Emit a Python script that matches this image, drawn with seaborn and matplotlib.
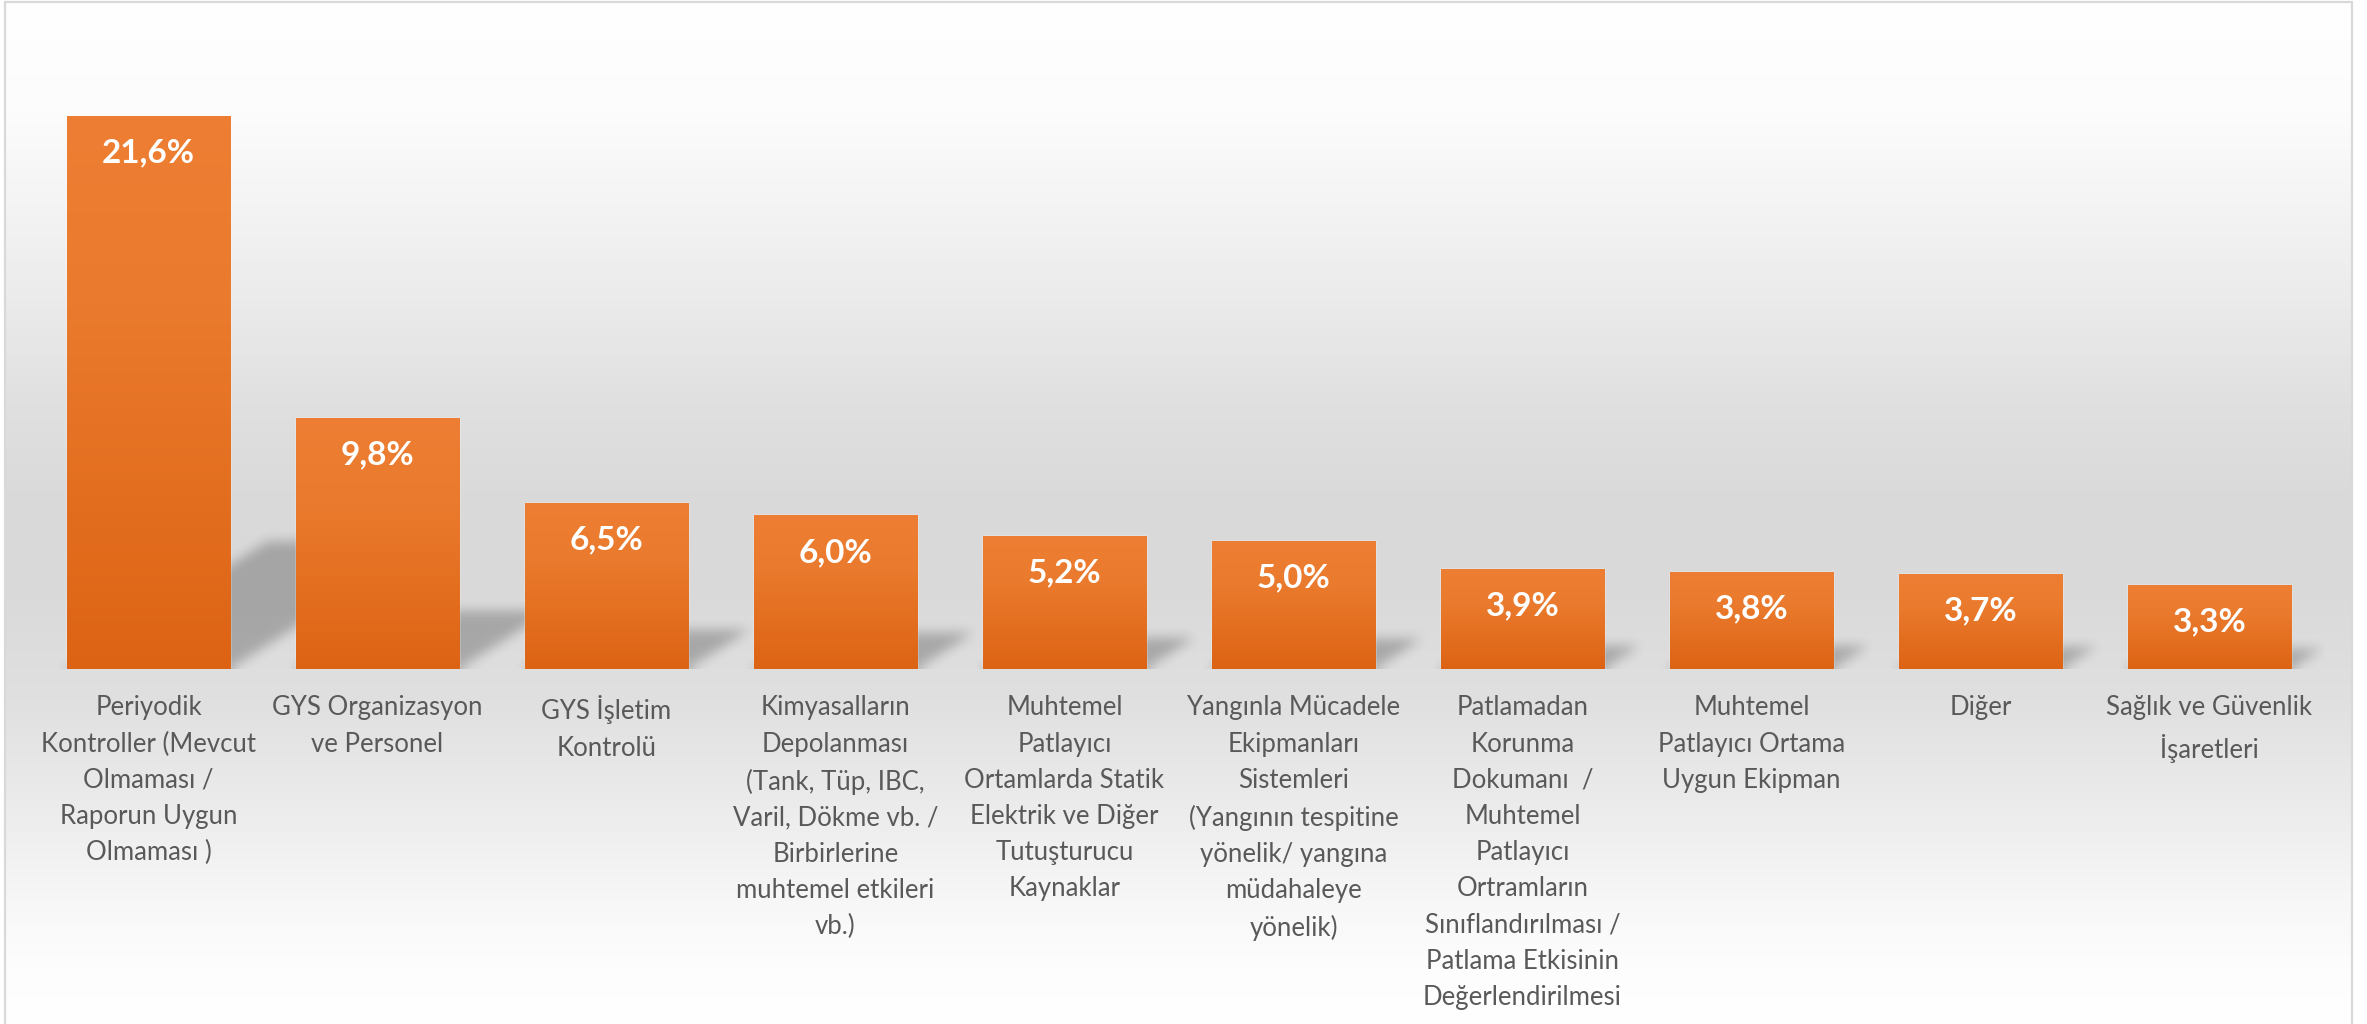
import numpy as np
import matplotlib
matplotlib.use("Agg")
import matplotlib.pyplot as plt
import seaborn as sns
from matplotlib.colors import LinearSegmentedColormap

# ---------------- data ----------------
categories = [
    "Periyodik\nKontroller (Mevcut\nOlmaması /\nRaporun Uygun\nOlmaması )",
    "GYS Organizasyon\nve Personel",
    "GYS İşletim\nKontrolü",
    "Kimyasalların\nDepolanması\n(Tank, Tüp, IBC,\nVaril, Dökme vb. /\nBirbirlerine\nmuhtemel etkileri\nvb.)",
    "Muhtemel\nPatlayıcı\nOrtamlarda Statik\nElektrik ve Diğer\nTutuşturucu\nKaynaklar",
    "Yangınla Mücadele\nEkipmanları\nSistemleri\n(Yangının tespitine\nyönelik/ yangına\nmüdahaleye\nyönelik)",
    "Patlamadan\nKorunma\nDokumanı  /\nMuhtemel\nPatlayıcı\nOrtramların\nSınıflandırılması /\nPatlama Etkisinin\nDeğerlendirilmesi",
    "Muhtemel\nPatlayıcı Ortama\nUygun Ekipman",
    "Diğer",
    "Sağlık ve Güvenlik\nİşaretleri",
]
values = [21.6, 9.8, 6.5, 6.0, 5.2, 5.0, 3.9, 3.8, 3.7, 3.3]
value_labels = [f"{v:.1f}%".replace(".", ",") for v in values]

# ---------------- style ----------------
sns.set_style("white")
plt.rcParams["font.family"] = ["Lato", "DejaVu Sans"]

W, H, DPI = 2367, 1024, 100
fig = plt.figure(figsize=(W / DPI, H / DPI), dpi=DPI)
fig.patch.set_facecolor("white")

# background gradient (inside the frame)
bg = fig.add_axes([5 / W, 0, (2352 - 5) / W, 1022 / H], zorder=0)
px = np.array([0, 112, 268, 402, 491, 580, 650, 700, 800, 900, 967, 1024])
lv = np.array([255, 252, 238, 224, 218, 217, 221, 224, 235, 247, 253, 255]) / 255.0
yy = np.arange(1024)
g = np.interp(yy, px, lv)
bg_img = np.repeat(np.stack([g, g, g], axis=-1)[:, None, :], 2, axis=1)
bg.imshow(bg_img, aspect="auto", extent=(0, 1, 0, 1), origin="upper",
          interpolation="bilinear")
bg.set_axis_off()

# frame
for xs_, ys_ in [((5, 5), (0, 1022)), ((5, 2352), (1022, 1022)), ((2352, 2352), (0, 1022))]:
    fig.add_artist(plt.Line2D([x / W for x in xs_], [y / H for y in ys_],
                              color="#d9d9d9", lw=1.6, zorder=1))

# main axes
ax_left, ax_right = 34 / W, 2324 / W
ax_bottom = (H - 669) / H
ymax = 25.0
ax_h = 25.6 * ymax / H
ax = fig.add_axes([ax_left, ax_bottom, ax_right - ax_left, ax_h], zorder=2)
ax.patch.set_alpha(0)

bar_w = 0.712
sns.barplot(x=categories, y=values, color="#ed7d31", saturation=1, width=bar_w,
            ax=ax, zorder=3)
ax.set_xlim(-0.5, len(values) - 0.5)
ax.set_ylim(0, ymax)

# bar gradients
bar_cmap = LinearSegmentedColormap.from_list(
    "bar", [(0.0, "#dd6314"), (0.65, "#ea7a2d"), (1.0, "#ee7e33")])
grad = np.linspace(0, 1, 256)[:, None]
for p in list(ax.patches):
    x0, y0 = p.get_x(), p.get_y()
    w, h = p.get_width(), p.get_height()
    im = ax.imshow(grad, cmap=bar_cmap, aspect="auto", origin="lower",
                   extent=(x0, x0 + w, y0, y0 + h), zorder=3.5, interpolation="bilinear")
    im.set_clip_path(p)

# perspective shadows
sx_px, sy_top = 2290, 7.0
Hs = int(sy_top * 25.6)
xs = np.linspace(-0.5, len(values) - 0.5, sx_px)
ys = np.linspace(0, sy_top, Hs)
X, Y = np.meshgrid(xs, ys)
mask = np.zeros_like(X)
for i, v in enumerate(values):
    hs = 0.23 * v
    dx = 0.0404 * v
    f = Y / hs
    inside = (Y <= hs) & (X >= i - bar_w / 2 + f * dx) & (X <= i + bar_w / 2 + f * dx)
    mask[inside] = 1.0


def box_blur(a, r, axis):
    pad = [(0, 0), (0, 0)]
    pad[axis] = (r + 1, r)
    b = np.pad(a, pad, mode="edge")
    c = np.cumsum(b, axis=axis)
    if axis == 0:
        return (c[2 * r + 1:, :] - c[:-2 * r - 1, :]) / (2 * r + 1)
    return (c[:, 2 * r + 1:] - c[:, :-2 * r - 1]) / (2 * r + 1)


for _ in range(3):
    mask = box_blur(mask, 5, 0)
    mask = box_blur(mask, 5, 1)
shadow = np.zeros((Hs, sx_px, 4))
shadow[..., 3] = mask * 0.24
ax.imshow(shadow, aspect="auto", origin="lower",
          extent=(-0.5, len(values) - 0.5, 0, sy_top), zorder=2, interpolation="bilinear")
ax.set_xlim(-0.5, len(values) - 0.5)
ax.set_ylim(0, ymax)

# value labels
for i, (v, lbl) in enumerate(zip(values, value_labels)):
    ax.annotate(lbl, (i, v), xytext=(0, -37 * 72 / DPI), textcoords="offset points",
                ha="center", va="center", color="white", fontweight="bold",
                fontsize=24, zorder=6)

# axes cosmetics
sns.despine(ax=ax, left=True, bottom=True)
ax.set_yticks([])
ax.set_ylabel("")
ax.set_xlabel("")
ax.tick_params(axis="x", length=0, pad=19, labelsize=18.5, labelcolor="#595959")
for t in ax.get_xticklabels():
    t.set_multialignment("center")
    t.set_linespacing(1.56)

fig.savefig("out.png", dpi=DPI, facecolor="white")
